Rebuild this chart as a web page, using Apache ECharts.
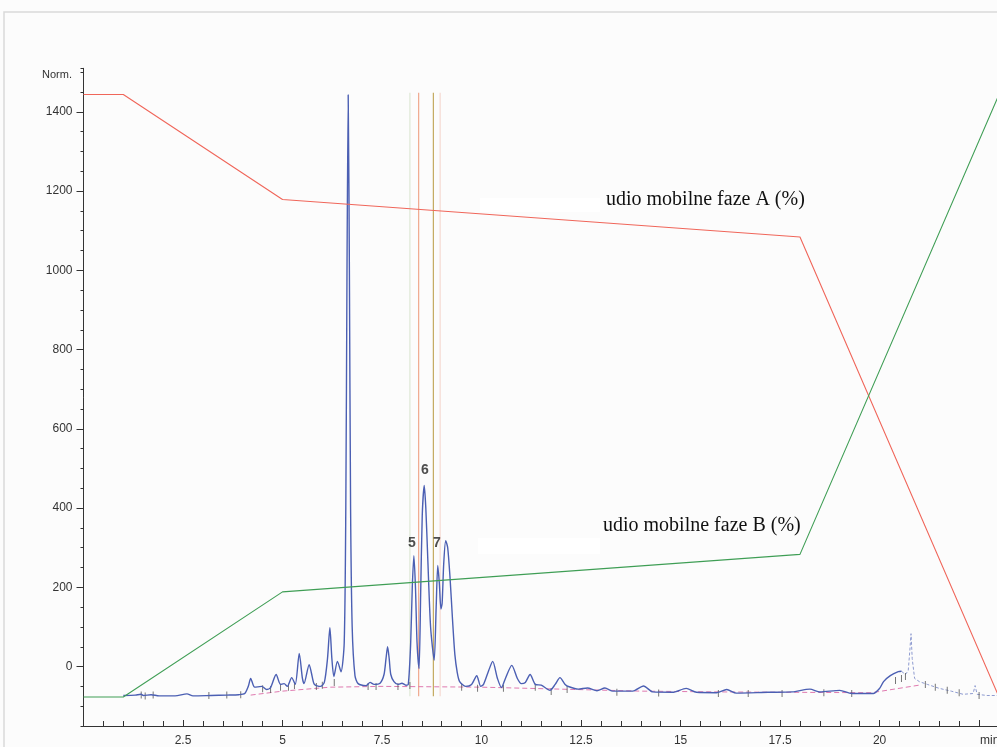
<!DOCTYPE html>
<html><head><meta charset="utf-8">
<script src="https://cdn.jsdelivr.net/npm/echarts@6/dist/echarts.min.js"></script>
<style>html,body{margin:0;padding:0;background:#fcfcfc;}#c{width:997px;height:747px;}</style>
</head><body><div id="c"></div>
<script>
// Gradient programme (% of mobile phase)
const gradientTimes = [0, 1, 5, 18, 23];
const phaseA = [95, 95, 79.3, 73.7, 5];
const phaseB = [5, 5, 20.7, 26.3, 95];

// Chromatogram trace [min, Norm.]
const traceMain = [
  [1.0,-73],[1.3,-72],[1.45,-70],[1.5,-73],[1.7,-71],[1.9,-74],[2.3,-74],[2.6,-69],[2.75,-74],
  [3.2,-73],[3.6,-72],[3.9,-71],[4.05,-68],[4.14,-50],[4.2,-30],[4.3,-52],[4.48,-50],[4.6,-58],[4.7,-53],
  [4.84,-20],[4.95,-45],[5.04,-43],[5.12,-50],[5.23,-28],[5.32,-45],[5.42,33],[5.5,-30],[5.54,-43],
  [5.67,5],[5.73,-18],[5.8,-45],[5.95,-50],[6.05,-40],[6.13,20],[6.19,98],[6.24,20],[6.29,-25],[6.38,13],[6.47,-13],
  [6.55,60],[6.59,400],[6.62,1000],[6.65,1443],[6.68,1000],[6.71,400],[6.75,100],[6.82,-23],[6.9,-43],[7.1,-48],[7.2,-40],
  [7.3,-45],[7.45,-42],[7.55,-20],[7.6,20],[7.64,50],[7.68,20],[7.72,-20],[7.8,-38],[7.9,-45],[8.0,-42],[8.1,-47],
  [8.16,-45],[8.22,60],[8.26,200],[8.3,280],[8.34,200],[8.38,60],[8.43,-5],[8.47,180],[8.51,380],[8.56,457],[8.6,400],[8.65,270],[8.72,100],
  [8.81,16],[8.86,150],[8.9,255],[8.94,210],[8.98,145],[9.01,160],[9.05,260],[9.1,318],[9.15,300],[9.21,222],
  [9.27,120],[9.33,30],[9.39,-15],[9.45,-38],[9.6,-50],[9.75,-45],[9.88,-23],[9.98,-50],[10.05,-45],[10.18,-10],[10.28,13],
  [10.4,-30],[10.5,-53],[10.6,-30],[10.76,3],[10.9,-30],[11.0,-43],[11.1,-40],[11.22,-20],[11.35,-45],
  [11.5,-47],[11.72,-60],[11.85,-45],[11.97,-28],[12.1,-45],[12.2,-51],[12.43,-57],[12.66,-54],
  [12.9,-61],[13.1,-54],[13.3,-62],[13.8,-62],[14.07,-49],[14.3,-64],[14.8,-65],[15.14,-55],
  [15.4,-65],[15.9,-66],[16.16,-58],[16.4,-67],[17.2,-65],[17.8,-64],[18.25,-57],[18.5,-64],
  [19.0,-60],[19.3,-68],[19.84,-68],[20.0,-55],[20.1,-38],[20.27,-23],[20.47,-13],[20.55,-12]
];
const traceTail = [
  [20.55,-12],[20.65,-20],[20.72,-10],[20.76,40],[20.79,83],[20.82,20],[20.88,-30],[21.0,-38],
  [21.2,-45],[21.5,-55],[21.8,-62],[22.1,-70],[22.35,-68],[22.4,-48],[22.45,-70],[22.7,-73],[23.2,-73]
];
// Integration baseline
const baseline = [[4.2,-72],[5.0,-62],[6.2,-52],[7.5,-50],[10,-52],[12,-57],[14,-62],[16,-64],[19.8,-66],[21.05,-46]];
// Integration event marks
const eventMarks = [
  [1.45,-72],[1.55,-74],[1.75,-72],[3.15,-73],[3.6,-72],[3.95,-71],[4.5,-56],[4.7,-58],[4.95,-52],
  [5.15,-52],[5.3,-48],[5.85,-50],[6.0,-47],[6.3,-40],[7.15,-50],[7.35,-50],[7.9,-50],[8.2,-48],
  [9.5,-52],[9.9,-55],[10.55,-55],[11.35,-52],[11.75,-63],[12.15,-58],[13.4,-65],[14.45,-67],
  [15.95,-68],[16.7,-68],[17.55,-68],[18.6,-66],[19.3,-68],[20.4,-35],[20.55,-30],[20.65,-25],
  [21.15,-45],[21.4,-52],[21.7,-60],[22.0,-66],[22.5,-73]
];
// Vertical marker lines
const markerTimes = [8.2, 8.42, 8.79, 8.96];
const markerColors = ['#dfe9d6', '#f0a88e', '#c4aa60', '#f6d9d2'];
const markerRange = [-75, 1448];
// Peak labels
const peakLabels = [[8.25, 312, '5'], [8.58, 496, '6'], [8.88, 312, '7']];
// Axis ticks
const yMajorTicks = [0, 200, 400, 600, 800, 1000, 1200, 1400];
const xLabelTicks = [2.5, 5, 7.5, 10, 12.5, 15, 17.5, 20];

const chart = echarts.init(document.getElementById('c'));
const font = 'Liberation Sans, Arial, sans-serif';
const series = [];
markerTimes.forEach((t, i) => {
  series.push({type:'line', data:[[t, markerRange[0]],[t, markerRange[1]]], symbol:'none',
    lineStyle:{color:markerColors[i], width:1.2}, silent:true, z:1});
});
series.push({type:'line', data:baseline, symbol:'none', lineStyle:{color:'#e07ab0', width:1, type:[5,3]}, z:2});
series.push({type:'line', data:traceMain, symbol:'none', smooth:0.25, lineStyle:{color:'#4b5fb3', width:1.4}, z:4});
series.push({type:'line', data:traceTail, symbol:'none', lineStyle:{color:'#8e9bd0', width:1, type:[3,2]}, z:3});
series.push({type:'scatter', data:eventMarks, symbol:'rect', symbolSize:[1,7], itemStyle:{color:'#555'}, z:3});
series.push({type:'line', yAxisIndex:2, data:gradientTimes.map((t,i)=>[t, phaseA[i]]), symbol:'none',
  lineStyle:{color:'#f0665a', width:1.1}, z:5});
series.push({type:'line', yAxisIndex:2, data:gradientTimes.map((t,i)=>[t, phaseB[i]]), symbol:'none',
  lineStyle:{color:'#3f9e55', width:1.1}, z:5});
series.push({type:'scatter', data:peakLabels, symbolSize:0, z:6,
  label:{show:true, position:'inside', formatter:p=>p.data[2], fontWeight:'bold', fontSize:14, color:'#222', fontFamily:font}});

chart.setOption({
  animation:false,
  backgroundColor:'#fcfcfc',
  grid:{left:83.5, top:68.3, width:913.5, height:659.3},
  xAxis:{type:'value', min:0, max:22.95, interval:2.5,
    axisLine:{show:true, onZero:false, lineStyle:{color:'#333', width:1}},
    axisTick:{show:true, inside:true, length:6, lineStyle:{color:'#333'}},
    minorTick:{show:true, splitNumber:5, length:5, lineStyle:{color:'#333'}},
    axisLabel:{customValues:xLabelTicks, margin:9, color:'#333', fontSize:12, fontFamily:font, formatter:v=>String(v)},
    splitLine:{show:false}, minorSplitLine:{show:false}},
  yAxis:[
    {type:'value', min:-150, max:1510, interval:50,
      axisLine:{show:true, onZero:false, lineStyle:{color:'#333'}},
      axisTick:{show:true, length:7, customValues:yMajorTicks, lineStyle:{color:'#333'}},
      axisLabel:{customValues:yMajorTicks, margin:11, color:'#333', fontSize:12, fontFamily:font, formatter:v=>String(v)},
      splitLine:{show:false}},
    {type:'value', min:-150, max:1510, interval:50, position:'left',
      axisLine:{show:false, onZero:false}, axisTick:{show:true, length:3, lineStyle:{color:'#333'}},
      axisLabel:{show:false}, splitLine:{show:false}},
    {type:'value', min:0.66, max:98.91, show:false}
  ],
  graphic:[
    {type:'polyline', shape:{points:[[4,747],[4,12],[997,12]]}, style:{stroke:'#d9d9d9', lineWidth:1.5, fill:null}},
    {type:'rect', shape:{x:480, y:198, width:120, height:14}, style:{fill:'#ffffff'}, z:-1},
    {type:'rect', shape:{x:478, y:538, width:122, height:16}, style:{fill:'#ffffff'}, z:-1},
    {type:'text', style:{text:'Norm.', x:72, y:75, align:'right', verticalAlign:'middle', fontSize:11, fill:'#333', fontFamily:font}},
    {type:'text', style:{text:'min', x:980, y:741, align:'left', verticalAlign:'middle', fontSize:12, fill:'#333', fontFamily:font}},
    {type:'text', style:{text:'udio mobilne faze A (%)', x:606, y:200, align:'left', verticalAlign:'middle', fontSize:20, fill:'#111', fontFamily:'Liberation Serif, Times New Roman, serif'}},
    {type:'text', style:{text:'udio mobilne faze B (%)', x:603, y:526, align:'left', verticalAlign:'middle', fontSize:20, fill:'#111', fontFamily:'Liberation Serif, Times New Roman, serif'}}
  ],
  series:series
});
</script></body></html>
